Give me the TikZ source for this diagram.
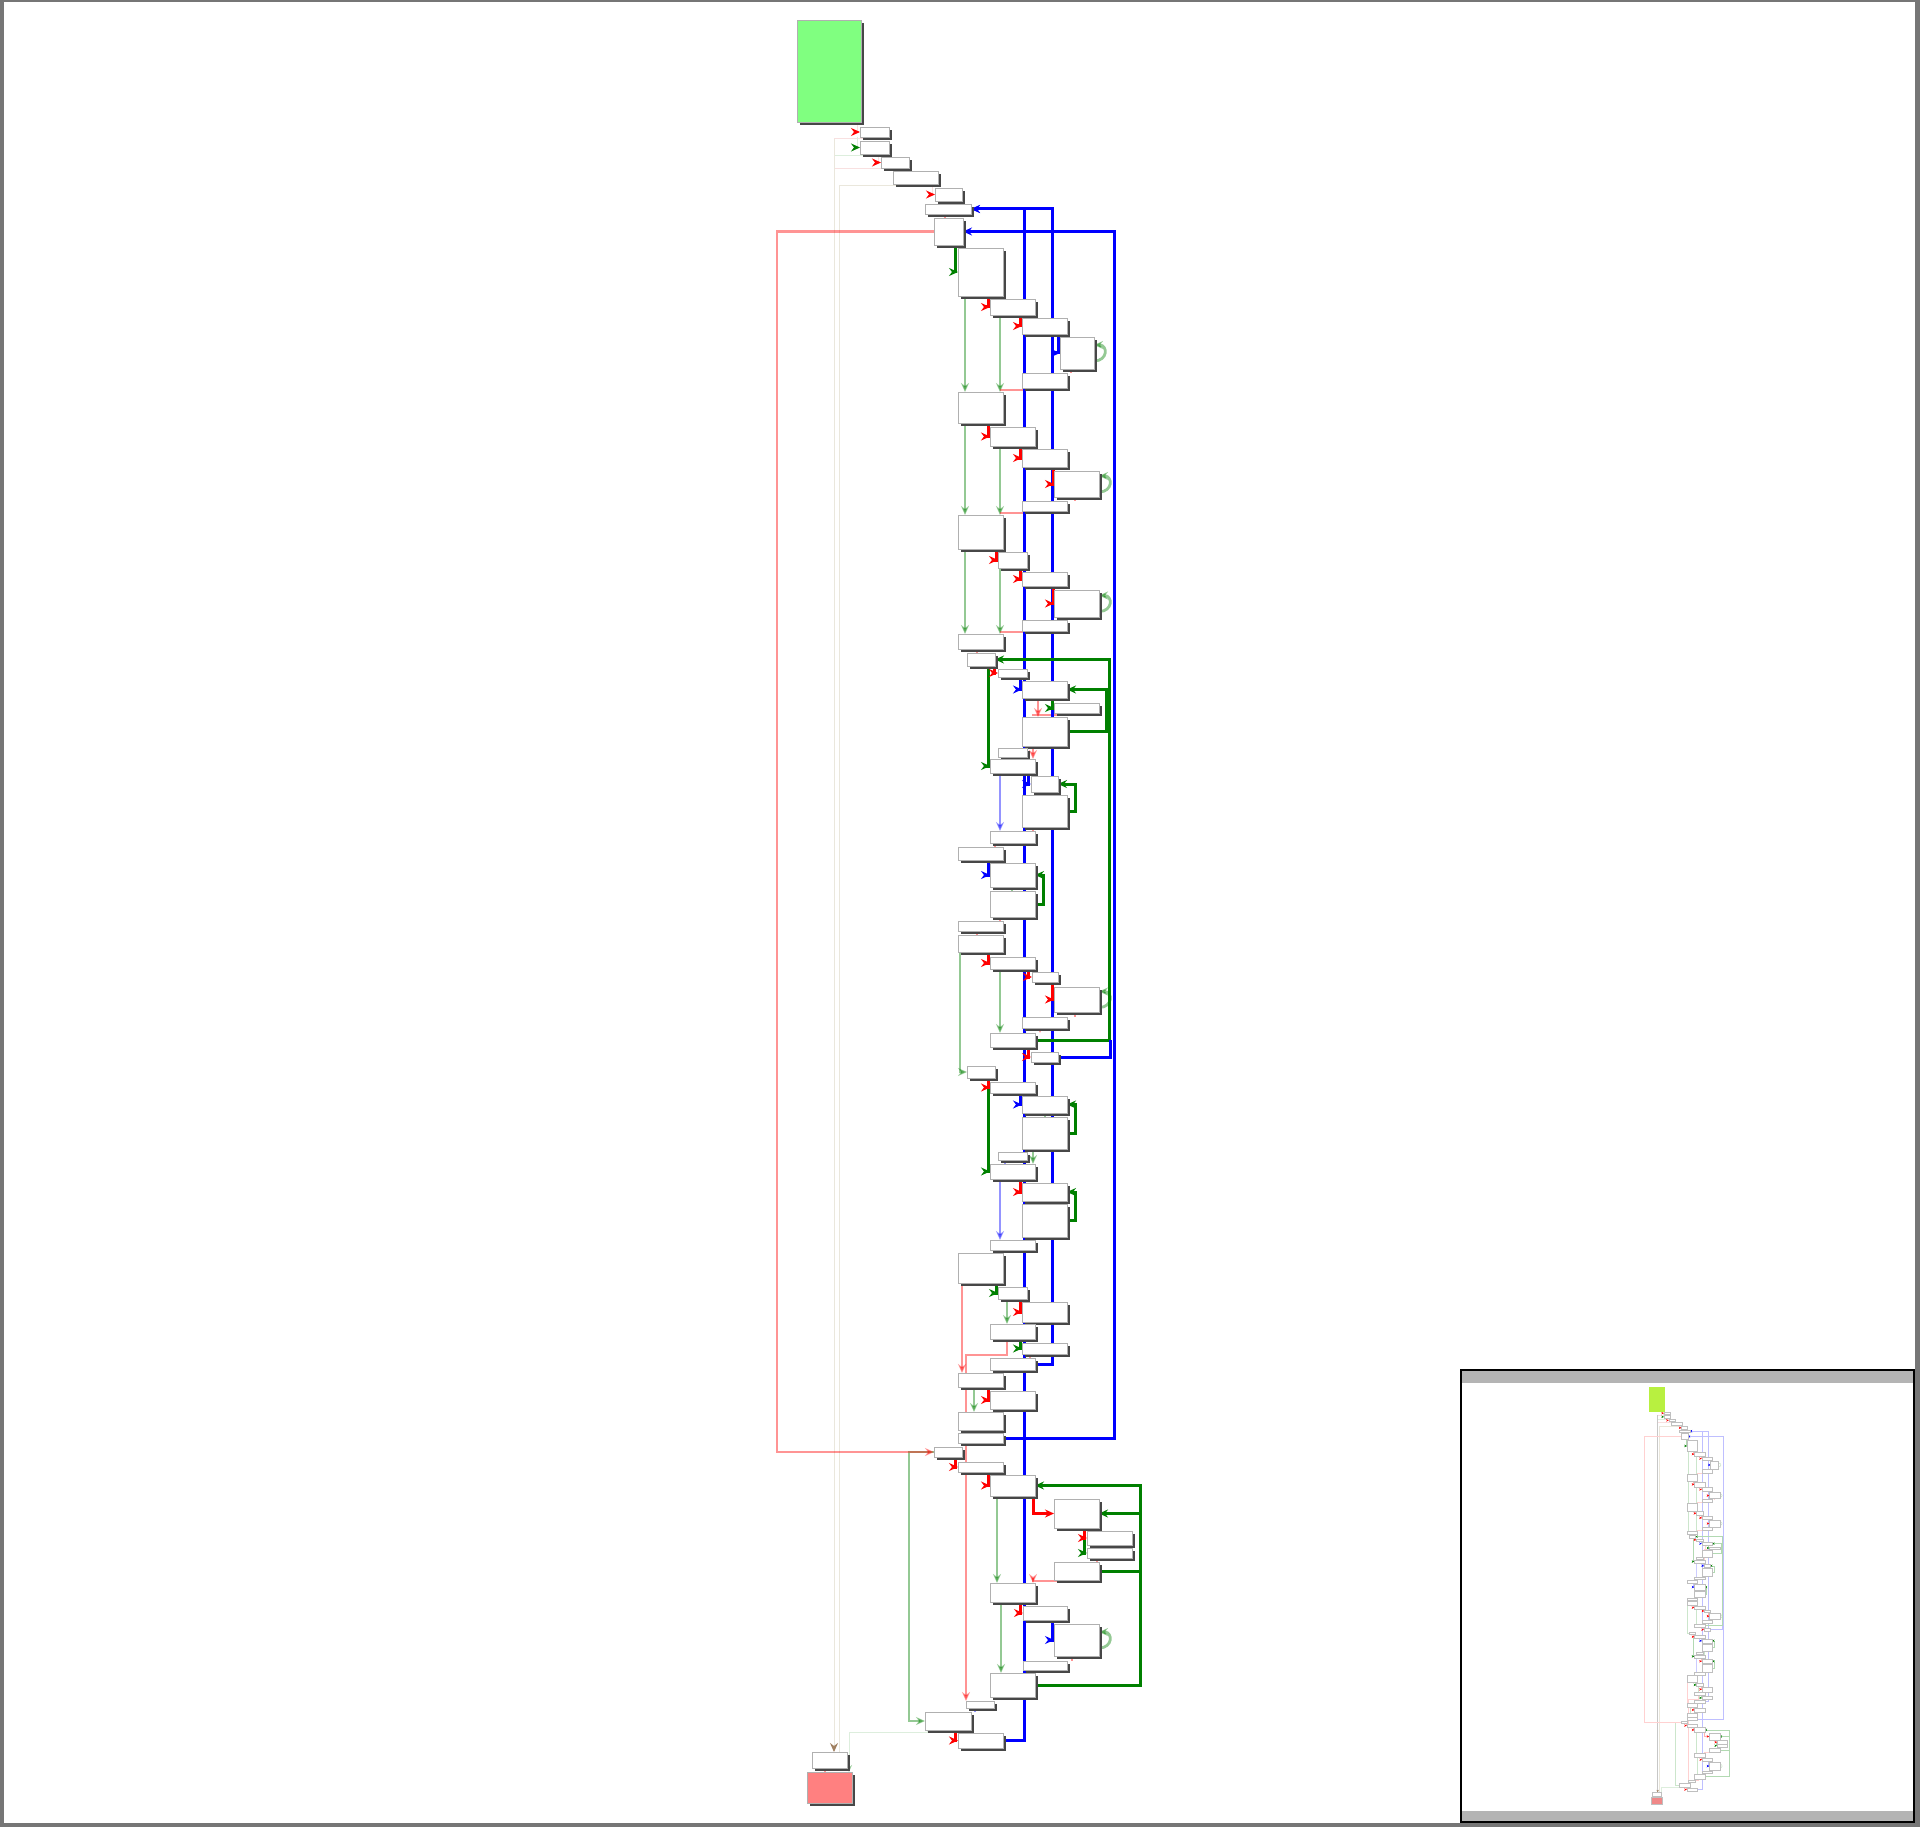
\documentclass[tikz,border=0pt]{standalone}
\usetikzlibrary{arrows.meta,shadows}
\definecolor{cR}{HTML}{FF0000}
\definecolor{cG}{HTML}{008000}
\definecolor{cB}{HTML}{0000FF}
\definecolor{faintR}{HTML}{F8E0E0}
\definecolor{faintG}{HTML}{DDEEDD}
\definecolor{faintK}{HTML}{EAE7DC}
\definecolor{tipK}{HTML}{A08060}
\definecolor{boxln}{HTML}{B0B0B0}
\definecolor{startfill}{HTML}{80FF80}
\definecolor{endfill}{HTML}{FF8080}
\definecolor{miniStart}{HTML}{B8F040}
\definecolor{miniEnd}{HTML}{F08888}
\definecolor{frameK}{HTML}{767676}
\definecolor{bandK}{HTML}{B4B4B4}
\pgfdeclarelayer{bg}
\pgfdeclarelayer{elow}
\pgfdeclarelayer{ehigh}
\pgfsetlayers{bg,elow,ehigh,main}

\newcommand\mkbox[6][blk]{\node[#1, minimum width={#5pt-#3pt}, minimum height={#6pt-#4pt}] (#2) at (#3,#4) {};}
\newcommand\selfloop[1]{\draw[loopG] (#1.east) ++(0,8) .. controls +(14,0) and +(14,0) .. ++(0,-16);}

\tikzset{
  mainstyles/.style={
    >={Stealth[length=9pt,width=8pt,inset=3pt]},
    blk/.style={anchor=north west, draw=boxln, line width=0.8pt, fill=white, inner sep=0pt, outer sep=0pt,
      drop shadow={shadow xshift=2.6pt, shadow yshift=-2.6pt, fill=black!72, opacity=1}},
    startbox/.style={blk, fill=startfill},
    endbox/.style={blk, fill=endfill},
    eR/.style={draw=cR, line width=3pt, ->},
    eG/.style={draw=cG, line width=3pt, ->},
    eB/.style={draw=cB, line width=3pt, ->},
    pR/.style={draw=cR, line width=2.8pt, opacity=0.42, ->},
    pG/.style={draw=cG, line width=2.8pt, opacity=0.42, ->},
    pB/.style={draw=cB, line width=2.8pt, opacity=0.42, ->},
    pRn/.style={draw=cR, line width=2.8pt, opacity=0.42},
    pGn/.style={draw=cG, line width=2.8pt, opacity=0.42},
    pBn/.style={draw=cB, line width=2.8pt, opacity=0.42},
    loopG/.style={draw=cG, line width=2.8pt, opacity=0.42, ->},
    fR/.style={draw=faintR, line width=1pt},
    fG/.style={draw=faintG, line width=1pt},
    fK/.style={draw=faintK, line width=1pt},
    fRa/.style={draw=faintR, line width=1pt, -{Stealth[length=9pt,width=8pt,inset=3pt,color=cR]}},
    fGa/.style={draw=faintG, line width=1pt, -{Stealth[length=9pt,width=8pt,inset=3pt,color=cG]}},
    fGp/.style={draw=faintG, line width=1pt, -{Stealth[length=7pt,width=6pt,inset=2.5pt,color=cG!40]}},
    fKa/.style={draw=faintK, line width=1pt, -{Stealth[length=9pt,width=8pt,inset=3pt,color=tipK]}},
  },
  mini/.style={
    >={Stealth[length=2.4pt,width=2.4pt,inset=0.8pt]},
    blk/.style={anchor=north west, draw=black!25, line width=0.3pt, fill=white, inner sep=0pt, outer sep=0pt,
      drop shadow={shadow xshift=0.5pt, shadow yshift=-0.5pt, fill=black!30, opacity=1}},
    startbox/.style={blk, fill=miniStart, draw=miniStart},
    endbox/.style={blk, fill=miniEnd},
    eR/.style={draw=cR!30, line width=0.5pt, -{Stealth[length=2.4pt,width=2.4pt,inset=0.8pt,color=cR]}},
    eG/.style={draw=cG!30, line width=0.5pt, -{Stealth[length=2.4pt,width=2.4pt,inset=0.8pt,color=cG]}},
    eB/.style={draw=cB!25, line width=0.5pt, -{Stealth[length=2.4pt,width=2.4pt,inset=0.8pt,color=cB]}},
    pR/.style={draw=cR!18, line width=0.4pt},
    pG/.style={draw=cG!20, line width=0.4pt},
    pB/.style={draw=cB!20, line width=0.4pt},
    pRn/.style={draw=cR!18, line width=0.4pt},
    pGn/.style={draw=cG!20, line width=0.4pt},
    pBn/.style={draw=cB!20, line width=0.4pt},
    loopG/.style={draw=cG!25, line width=0.4pt},
    fR/.style={draw=faintR, line width=0.3pt},
    fG/.style={draw=faintG, line width=0.3pt},
    fK/.style={draw=faintK, line width=0.3pt},
    fRa/.style={draw=faintR, line width=0.3pt, -{Stealth[length=2.4pt,width=2.4pt,color=cR]}},
    fGa/.style={draw=faintG, line width=0.3pt, -{Stealth[length=2.4pt,width=2.4pt,color=cG]}},
    fGp/.style={draw=faintG, line width=0.3pt},
    fKa/.style={draw=black!22, line width=1pt, -{Stealth[length=2.4pt,width=2.4pt,color=tipK]}},
  }
}

\newcommand\thegraph[1]{%
\mkbox[startbox]{#1G}{797}{20}{861}{122}
\mkbox{#1b1}{860}{127}{889}{137}
\mkbox{#1b2}{860}{141}{889}{154}
\mkbox{#1b3}{881}{157}{909}{168}
\mkbox{#1b4}{893}{171}{938}{184}
\mkbox{#1b5}{935}{188}{962}{201}
\mkbox{#1b6}{925}{204}{971}{214}
\mkbox{#1b7}{934}{218}{963}{245}
\mkbox{#1b8}{958}{248}{1003}{296}
\mkbox{#1b9}{990}{299}{1035}{315}
\mkbox{#1b10}{1022}{318}{1067}{334}
\mkbox{#1b11}{1060}{337}{1094}{369}
\mkbox{#1b12}{1022}{373}{1067}{388}
\mkbox{#1b13}{958}{392}{1003}{423}
\mkbox{#1b14}{990}{427}{1035}{446}
\mkbox{#1b15}{1022}{449}{1067}{467}
\mkbox{#1b16}{1054}{471}{1099}{497}
\mkbox{#1b17}{1022}{501}{1067}{511}
\mkbox{#1b18}{958}{515}{1003}{549}
\mkbox{#1b19}{998}{552}{1027}{568}
\mkbox{#1b20}{1022}{572}{1067}{586}
\mkbox{#1b21}{1054}{590}{1099}{617}
\mkbox{#1b22}{1022}{620}{1067}{631}
\mkbox{#1b23}{958}{634}{1003}{649}
\mkbox{#1b24}{967}{653}{995}{666}
\mkbox{#1b25}{998}{669}{1027}{677}
\mkbox{#1b26}{1022}{681}{1067}{698}
\mkbox{#1b27}{1054}{703}{1099}{713}
\mkbox{#1b28}{1022}{717}{1067}{746}
\mkbox{#1b29}{998}{748}{1027}{757}
\mkbox{#1b30}{990}{759}{1035}{773}
\mkbox{#1b31}{1031}{776}{1058}{792}
\mkbox{#1b32}{1022}{795}{1067}{827}
\mkbox{#1b33}{990}{831}{1035}{843}
\mkbox{#1b34}{958}{847}{1003}{860}
\mkbox{#1b35}{990}{863}{1035}{887}
\mkbox{#1b36}{990}{891}{1035}{917}
\mkbox{#1b37}{958}{921}{1003}{931}
\mkbox{#1b38}{958}{935}{1003}{952}
\mkbox{#1b39}{990}{957}{1035}{969}
\mkbox{#1b40}{1032}{972}{1058}{982}
\mkbox{#1b41}{1054}{987}{1099}{1012}
\mkbox{#1b42}{1022}{1017}{1067}{1028}
\mkbox{#1b43}{990}{1033}{1035}{1047}
\mkbox{#1b44}{1031}{1052}{1058}{1062}
\mkbox{#1b45}{967}{1066}{995}{1078}
\mkbox{#1b46}{990}{1082}{1035}{1093}
\mkbox{#1b47}{1022}{1096}{1067}{1113}
\mkbox{#1b48}{1022}{1117}{1067}{1149}
\mkbox{#1b49}{998}{1152}{1027}{1160}
\mkbox{#1b50}{990}{1164}{1035}{1179}
\mkbox{#1b51}{1022}{1183}{1067}{1201}
\mkbox{#1b52}{1022}{1204}{1067}{1237}
\mkbox{#1b53}{990}{1240}{1035}{1250}
\mkbox{#1b54}{958}{1253}{1003}{1283}
\mkbox{#1b55}{998}{1287}{1027}{1299}
\mkbox{#1b56}{1022}{1302}{1067}{1322}
\mkbox{#1b57}{990}{1324}{1035}{1339}
\mkbox{#1b58}{1022}{1343}{1067}{1354}
\mkbox{#1b59}{990}{1358}{1035}{1370}
\mkbox{#1b60}{958}{1373}{1003}{1387}
\mkbox{#1b61}{990}{1391}{1035}{1409}
\mkbox{#1b62}{958}{1412}{1003}{1430}
\mkbox{#1b63}{958}{1433}{1003}{1443}
\mkbox{#1b64}{934}{1447}{962}{1457}
\mkbox{#1b65}{958}{1462}{1003}{1472}
\mkbox{#1b66}{990}{1475}{1035}{1496}
\mkbox{#1b67}{1054}{1499}{1099}{1528}
\mkbox{#1b68}{1087}{1531}{1132}{1545}
\mkbox{#1b69}{1087}{1548}{1132}{1558}
\mkbox{#1b70}{1054}{1562}{1099}{1580}
\mkbox{#1b71}{990}{1583}{1035}{1602}
\mkbox{#1b72}{1023}{1606}{1067}{1620}
\mkbox{#1b73}{1054}{1624}{1099}{1656}
\mkbox{#1b74}{1023}{1661}{1067}{1670}
\mkbox{#1b75}{990}{1673}{1035}{1697}
\mkbox{#1b76}{966}{1701}{994}{1708}
\mkbox{#1b77}{925}{1712}{971}{1730}
\mkbox{#1b78}{958}{1733}{1003}{1748}
\mkbox{#1E1}{812}{1752}{847}{1768}
\mkbox[endbox]{#1E2}{807}{1772}{852}{1803}
\begin{pgfonlayer}{elow}
% faint edges towards the end block
\draw[fR] (870,0 |- #1b1.south) |- (834,139);
\draw[fG] (870,0 |- #1b2.south) |- (834,156);
\draw[fR] (903,0 |- #1b3.south) |- (834,169);
\draw[fKa] (834,139) -- (834,0 |- #1E1.north);
\draw[fK] (930,0 |- #1b4.south) |- (839,186) -- (839,0 |- #1E1.north);
\draw[fRa] (857,0 |- #1G.south) |- (#1b1.west);
\draw[fGa] (857,0 |- #1b1.south) |- (#1b2.west);
\draw[fRa] (878,0 |- #1b2.south) |- (#1b3.west);
\draw[pRn] (897,0 |- #1b3.south) -- (897,0 |- #1b4.north);
\draw[fRa] (932,0 |- #1b4.south) |- (#1b5.west);
\draw[pRn] (948,0 |- #1b5.south) -- (948,0 |- #1b6.north);
\draw[pRn] (945,0 |- #1b6.south) -- (945,0 |- #1b7.north);
% long loops on the left
\draw[pG] (#1b64.west) -- (909,0 |- #1b64.west) |- (#1b77.west);
\draw[pR] (#1b7.west) -- (777,0 |- #1b7.west) -- (777,0 |- #1b64.west) -- (#1b64.west);
% section 1
\draw[pG] (965,0 |- #1b8.south) -- (965,0 |- #1b13.north);
\draw[pG] (1012,0 |- #1b9.south) |- (1000,317) -- (1000,0 |- #1b13.north);
\selfloop{#1b11}
\draw[pRn] (1071,0 |- #1b11.south) -- (1071,0 |- #1b12.north);
\draw[pRn] (1045,0 |- #1b12.south) |- (1000,390);
% section 2
\draw[pG] (965,0 |- #1b13.south) -- (965,0 |- #1b18.north);
\draw[pG] (1012,0 |- #1b14.south) |- (1000,448) -- (1000,0 |- #1b18.north);
\selfloop{#1b16}
\draw[pRn] (1075,0 |- #1b16.south) -- (1075,0 |- #1b17.north);
\draw[pRn] (1045,0 |- #1b17.south) |- (1000,513);
% section 3
\draw[pG] (965,0 |- #1b18.south) -- (965,0 |- #1b23.north);
\draw[pG] (1012,0 |- #1b19.south) |- (1000,570) -- (1000,0 |- #1b23.north);
\selfloop{#1b21}
\draw[pRn] (1075,0 |- #1b21.south) -- (1075,0 |- #1b22.north);
\draw[pRn] (1045,0 |- #1b22.south) |- (1000,632);
% section 4
\draw[pRn] (977,0 |- #1b23.south) -- (977,0 |- #1b24.north);
\draw[pR] (1038,0 |- #1b26.south) -- (1038,0 |- #1b28.north);
\draw[pRn] (1077,0 |- #1b27.south) |- (1032,715);
\draw[pR] (1033,0 |- #1b28.south) -- (1033,0 |- #1b30.north);
\draw[pBn] (1005,0 |- #1b29.south) -- (1005,0 |- #1b30.north);
\draw[pB] (1000,0 |- #1b30.south) -- (1000,0 |- #1b33.north);
\draw[pGn] (1045,0 |- #1b31.south) -- (1045,0 |- #1b32.north);
\draw[pRn] (1033,0 |- #1b32.south) -- (1033,0 |- #1b33.north);
\draw[pRn] (995,0 |- #1b33.south) -- (995,0 |- #1b34.north);
\draw[pGn] (1012,0 |- #1b35.south) -- (1012,0 |- #1b36.north);
\draw[pRn] (1000,0 |- #1b36.south) -- (1000,0 |- #1b37.north);
\draw[pRn] (977,0 |- #1b37.south) -- (977,0 |- #1b38.north);
\draw[pG] (960,0 |- #1b38.south) |- (#1b45.west);
\draw[pG] (1000,0 |- #1b39.south) -- (1000,0 |- #1b43.north);
\selfloop{#1b41}
\draw[pRn] (1075,0 |- #1b41.south) -- (1075,0 |- #1b42.north);
\draw[pR] (1040,0 |- #1b42.south) -- (1040,0 |- #1b43.north);
% section 5
\draw[pGn] (1045,0 |- #1b47.south) -- (1045,0 |- #1b48.north);
\draw[pG] (1033,0 |- #1b48.south) -- (1033,0 |- #1b50.north);
\draw[pBn] (1005,0 |- #1b49.south) -- (1005,0 |- #1b50.north);
\draw[pB] (1000,0 |- #1b50.south) -- (1000,0 |- #1b53.north);
\draw[pGn] (1045,0 |- #1b51.south) -- (1045,0 |- #1b52.north);
\draw[pRn] (1033,0 |- #1b52.south) -- (1033,0 |- #1b53.north);
\draw[pRn] (1000,0 |- #1b53.south) -- (1000,0 |- #1b54.north);
\draw[pR] (962,0 |- #1b54.south) -- (962,0 |- #1b60.north);
\draw[pG] (1007,0 |- #1b55.south) -- (1007,0 |- #1b57.north);
\draw[pRn] (1040,0 |- #1b56.south) -- (1040,0 |- #1b57.north);
\draw[pR] (1007,0 |- #1b57.south) |- (966,1355) -- (966,0 |- #1b76.north);
\draw[pRn] (1030,0 |- #1b58.south) -- (1030,0 |- #1b59.north);
\draw[pG] (974,0 |- #1b60.south) -- (974,0 |- #1b62.north);
\draw[pRn] (1012,0 |- #1b61.south) |- (1000,1411);
\draw[pRn] (980,0 |- #1b62.south) -- (980,0 |- #1b63.north);
% section 6
\draw[pG] (997,0 |- #1b66.south) -- (997,0 |- #1b71.north);
\draw[pBn] (1100,0 |- #1b68.south) -- (1100,0 |- #1b69.north);
\draw[pRn] (1097,0 |- #1b69.south) -- (1097,0 |- #1b70.north);
\draw[pR] (1077,0 |- #1b70.south) -- (1077,1581) -| (1033,0 |- #1b71.north);
\draw[pG] (1001,0 |- #1b71.south) -- (1001,0 |- #1b75.north);
\selfloop{#1b73}
\draw[pRn] (1072,0 |- #1b73.south) -- (1072,0 |- #1b74.north);
\draw[pRn] (1040,0 |- #1b74.south) -- (1040,0 |- #1b75.north);
\draw[pRn] (1008,0 |- #1b75.south) |- (993,1699);
\draw[pBn] (975,0 |- #1b76.south) -- (975,0 |- #1b77.north);
\draw[fGp] (927,0 |- #1b77.south) |- (849,1732) -- (849,0 |- #1E2.north);
\draw[pRn] (825,0 |- #1E1.south) -- (825,0 |- #1E2.north);
\end{pgfonlayer}
\begin{pgfonlayer}{ehigh}
\draw[eB] (#1b78.east) -| (1024,0 |- #1b6.east) -- (#1b6.east);
\draw[eB] (#1b59.east) -| (1052,0 |- #1b6.east) -- (#1b6.east);
\draw[eB] (#1b63.east) -| (1114,0 |- #1b7.east) -- (#1b7.east);
\draw[eG] (955,0 |- #1b7.south) |- (#1b8.west);
\draw[eR] (988,0 |- #1b8.south) |- (#1b9.west);
\draw[eR] (1020,0 |- #1b9.south) |- (#1b10.west);
\draw[eB] (1058,0 |- #1b10.south) |- (#1b11.west);
\draw[eR] (988,0 |- #1b13.south) |- (#1b14.west);
\draw[eR] (1020,0 |- #1b14.south) |- (#1b15.west);
\draw[eR] (1053,0 |- #1b15.south) |- (#1b16.west);
\draw[eR] (996,0 |- #1b18.south) |- (#1b19.west);
\draw[eR] (1020,0 |- #1b19.south) |- (#1b20.west);
\draw[eR] (1053,0 |- #1b20.south) |- (#1b21.west);
\draw[eG] (988,0 |- #1b24.south) |- (#1b30.west);
\draw[eR] (994,0 |- #1b24.south) |- (#1b25.west);
\draw[eB] (1020,0 |- #1b25.south) |- (#1b26.west);
\draw[eG] (1052,0 |- #1b26.south) |- (#1b27.west);
\draw[eG] (#1b28.east) -- (1106,0 |- #1b28.east) |- (#1b26.east);
\draw[eG] (#1b43.east) -- (1109,0 |- #1b43.east) |- (#1b24.east);
\draw[eB, -] (#1b44.east) -| (1110,0 |- #1b43.east);
\draw[eB] (1028,0 |- #1b30.south) |- (#1b31.west);
\draw[eG] (#1b32.east) -- (1075,0 |- #1b32.east) |- (#1b31.east);
\draw[eB] (988,0 |- #1b34.south) |- (#1b35.west);
\draw[eG] (#1b36.east) -- (1043,0 |- #1b36.east) |- (#1b35.east);
\draw[eR] (988,0 |- #1b38.south) |- (#1b39.west);
\draw[eR] (1028,0 |- #1b39.south) |- (#1b40.west);
\draw[eR] (1052,0 |- #1b40.south) |- (#1b41.west);
\draw[eR] (1028,0 |- #1b43.south) |- (#1b44.west);
\draw[eG] (988,0 |- #1b45.south) |- (#1b50.west);
\draw[eR] (988,0 |- #1b45.south) |- (#1b46.west);
\draw[eB] (1020,0 |- #1b46.south) |- (#1b47.west);
\draw[eG] (#1b48.east) -- (1075,0 |- #1b48.east) |- (#1b47.east);
\draw[eR] (1020,0 |- #1b50.south) |- (#1b51.west);
\draw[eG] (#1b52.east) -- (1075,0 |- #1b52.east) |- (#1b51.east);
\draw[eG] (996,0 |- #1b54.south) |- (#1b55.west);
\draw[eR] (1020,0 |- #1b55.south) |- (#1b56.west);
\draw[eG] (1020,0 |- #1b57.south) |- (#1b58.west);
\draw[eR] (988,0 |- #1b60.south) |- (#1b61.west);
\draw[eR] (955,0 |- #1b64.south) |- (#1b65.west);
\draw[eR] (988,0 |- #1b65.south) |- (#1b66.west);
\draw[eR] (1033,0 |- #1b66.south) |- (#1b67.west);
\draw[eG] (#1b75.east) -- (1140,0 |- #1b75.east) |- (#1b66.east);
\draw[eG] (#1b70.east) -- (1140,0 |- #1b70.east) |- (#1b67.east);
\draw[eG] (1084,0 |- #1b67.south) |- (#1b69.west);
\draw[eR] (1084,0 |- #1b67.south) |- (#1b68.west);
\draw[eR] (1020,0 |- #1b71.south) |- (#1b72.west);
\draw[eB] (1052,0 |- #1b72.south) |- (#1b73.west);
\draw[eR] (955,0 |- #1b77.south) |- (#1b78.west);
\end{pgfonlayer}
}

\begin{document}
\begin{tikzpicture}[x=1pt, y=-1pt, mainstyles]
\useasboundingbox (0,0) rectangle (1920,1827);
\begin{pgfonlayer}{bg}
\fill[frameK] (0,0) rectangle (1920,1827);
\fill[white] (4,2) rectangle (1915,1823);
\fill[white] (1461,1370) rectangle (1914,1822);
\fill[bandK] (1461,1370) rectangle (1914,1383);
\fill[bandK] (1461,1811) rectangle (1914,1822);
\end{pgfonlayer}
\thegraph{}
\begin{scope}[shift={(1462.5,1382.3)}, scale=0.234, transform shape, mini]
\thegraph{m}
\end{scope}
\draw[black, line width=2.5pt] (1461,1370) rectangle (1914,1822);
\end{tikzpicture}
\end{document}
